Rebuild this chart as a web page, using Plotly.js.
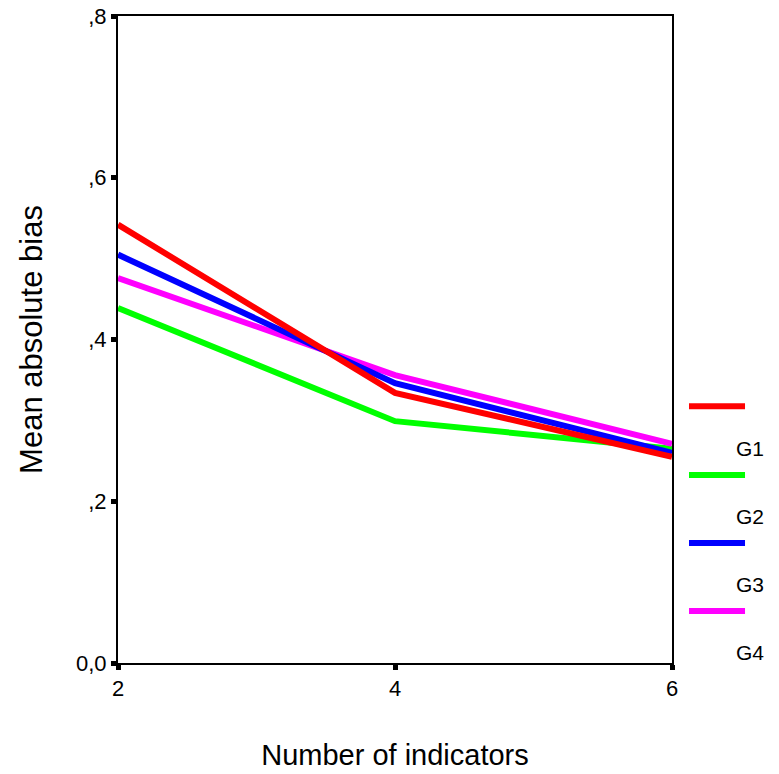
<!DOCTYPE html>
<html>
<head>
<meta charset="utf-8">
<script src="https://cdn.plot.ly/plotly-3.0.1.min.js"></script>
<style>html,body{margin:0;padding:0;background:#fff;}#chart{width:779px;height:774px;}</style>
</head>
<body>
<div id="chart"></div>
<script>
const indicators = [2, 4, 6];
const seriesNames = ['G1', 'G2', 'G3', 'G4'];
const g1 = [0.542, 0.334, 0.255];
const g2 = [0.439, 0.299, 0.265];
const g3 = [0.505, 0.346, 0.260];
const g4 = [0.476, 0.356, 0.271];
const colors = ['#ff0000', '#00ff00', '#0000ff', '#ff00ff'];
const yTickVals = [0, 0.2, 0.4, 0.6, 0.8];
const yTickText = ['0,0', ',2', ',4', ',6', ',8'];
const xTickVals = [2, 4, 6];

const values = [g1, g2, g3, g4];
const drawOrder = [1, 3, 2, 0]; // green, magenta, blue, red on top
const traces = drawOrder.map(i => ({
  x: indicators, y: values[i], type: 'scatter', mode: 'lines',
  name: seriesNames[i], line: {color: colors[i], width: 6}, showlegend: false,
  hoverinfo: 'skip'
}));

const shapes = [];
const annotations = [];
const lineY = [0.397, 0.2906, 0.1855, 0.0804];
const labelY = [0.3308, 0.2257, 0.1206, 0.0155];
seriesNames.forEach((n, i) => {
  shapes.push({type: 'line', xref: 'paper', yref: 'paper', x0: 1.0307, x1: 1.1318,
    y0: lineY[i], y1: lineY[i], line: {color: colors[i], width: 6}});
  annotations.push({xref: 'paper', yref: 'paper', x: 1.112, y: labelY[i], text: n,
    showarrow: false, xanchor: 'left', yanchor: 'middle',
    font: {family: 'Liberation Sans, Arial, sans-serif', size: 21, color: '#000'}});
});

const layout = {
  width: 779, height: 774,
  margin: {l: 118, r: 107, t: 16, b: 111, pad: 0},
  paper_bgcolor: '#fff', plot_bgcolor: '#fff',
  font: {family: 'Liberation Sans, Arial, sans-serif', color: '#000', size: 21},
  showlegend: false,
  xaxis: {
    range: [2, 6], tickvals: xTickVals, ticktext: xTickVals.map(String),
    showgrid: false, zeroline: false, showline: true, mirror: true,
    linecolor: '#000', linewidth: 2, ticks: 'outside', ticklen: 5, tickwidth: 5,
    tickcolor: '#000', tickfont: {family: 'Liberation Sans, Arial, sans-serif', size: 22, color: '#000'},
    title: {text: 'Number of indicators', font: {size: 29}, standoff: 44}
  },
  yaxis: {
    range: [0, 0.8], tickvals: yTickVals, ticktext: yTickText,
    showgrid: false, zeroline: false, showline: true, mirror: true,
    linecolor: '#000', linewidth: 2, ticks: 'outside', ticklen: 5, tickwidth: 5,
    tickcolor: '#000', tickfont: {family: 'Liberation Sans, Arial, sans-serif', size: 22, color: '#000'},
    title: {text: 'Mean absolute bias', font: {size: 31}, standoff: 24}
  },
  shapes: shapes,
  annotations: annotations
};

Plotly.newPlot('chart', traces, layout, {displayModeBar: false, staticPlot: true});
</script>
</body>
</html>
